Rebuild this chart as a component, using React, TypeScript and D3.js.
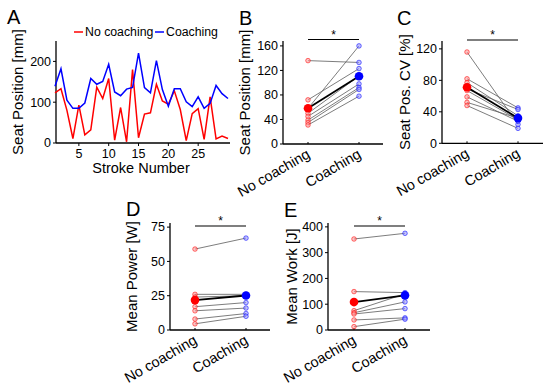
import React from "react";
import * as d3 from "d3";

// Panel A: seat position per stroke
const strokes = d3.range(1, 31);
const noCoachingSeries = [123, 133, 80, 11, 93, 20, 32, 137, 109, 158, 7, 87, 3, 180, 13, 71, 74, 144, 103, 95, 128, 82, 6, 72, 84, 9, 113, 10, 17, 11];
const coachingSeries = [139, 182, 105, 85, 85, 98, 158, 144, 151, 193, 125, 116, 132, 136, 220, 136, 123, 202, 131, 90, 133, 133, 101, 89, 113, 85, 97, 141, 121, 109];
const aXTicks = [5, 10, 15, 20, 25];
const aYTicks = [0, 100, 200];

const categories = ["No coaching", "Coaching"];

// Panel B: seat position (mm)
const bNo = [136, 72, 58, 50, 45, 39, 35, 31];
const bCo = [133, 123, 160, 111, 98, 92, 89, 78];
// Panel C: seat position CV (%)
const cNo = [116, 82, 77, 69, 67, 59, 52, 48];
const cCo = [24, 45, 35, 43, 30, 28, 32, 19];
// Panel D: mean power (W)
const dNo = [59, 26, 24, 17, 14, 8, 4.5];
const dCo = [67, 26, 25, 20, 16, 12, 10];
// Panel E: mean work (J)
const eNo = [353, 149, 75, 67, 62, 39, 13];
const eCo = [375, 145, 140, 109, 83, 47, 42];

const FONT = "'Liberation Sans', Arial, Helvetica, sans-serif";
const RED = "#ff0000";
const BLUE = "#0000ff";

function PanelA() {
  const x = d3.scaleLinear().domain([1, 30]).range([55, 228]);
  const y = d3.scaleLinear().domain([0, 250]).range([143, 41]);
  const line = d3
    .line<number>()
    .x((_, i) => x(strokes[i]))
    .y((d) => y(d));
  return (
    <g>
      <text x={7} y={24} fontSize={20} fontFamily={FONT}>A</text>
      <line x1={56} x2={56} y1={41} y2={143} stroke="#000" strokeWidth={1.3} />
      <line x1={56} x2={230} y1={143} y2={143} stroke="#000" strokeWidth={1.3} />
      {aYTicks.map((t) => (
        <g key={t}>
          <line x1={53} x2={56} y1={y(t)} y2={y(t)} stroke="#000" />
          <text x={51} y={y(t)} dy="0.35em" textAnchor="end" fontSize={12.5} fontFamily={FONT}>{t}</text>
        </g>
      ))}
      {aXTicks.map((t) => (
        <g key={t}>
          <line x1={x(t)} x2={x(t)} y1={143} y2={146} stroke="#000" />
          <text x={x(t)} y={158} textAnchor="middle" fontSize={12.5} fontFamily={FONT}>{t}</text>
        </g>
      ))}
      <path d={line(noCoachingSeries) || ""} fill="none" stroke={RED} strokeWidth={1.5} />
      <path d={line(coachingSeries) || ""} fill="none" stroke={BLUE} strokeWidth={1.5} />
      <text x={141} y={173} textAnchor="middle" fontSize={14.5} fontFamily={FONT}>Stroke Number</text>
      <text transform="translate(23,92) rotate(-90)" textAnchor="middle" fontSize={15} fontFamily={FONT}>Seat Position [mm]</text>
      <line x1={74} x2={83} y1={32} y2={32} stroke={RED} strokeWidth={1.5} />
      <text x={85} y={36} fontSize={12.3} fontFamily={FONT}>{categories[0]}</text>
      <line x1={155} x2={164} y1={32} y2={32} stroke={BLUE} strokeWidth={1.5} />
      <text x={166} y={36} fontSize={12.3} fontFamily={FONT}>{categories[1]}</text>
    </g>
  );
}

type PairProps = {
  letter: string;
  letterX: number;
  letterY: number;
  label: string;
  labelX: number;
  axisX: number;
  xEnd: number;
  top: number;
  bottom: number;
  domain: [number, number];
  ticks: number[];
  cats: [number, number];
  barY: number;
  no: number[];
  co: number[];
};

function PairPanel(p: PairProps) {
  const y = d3.scaleLinear().domain(p.domain).range([p.bottom, p.top]);
  const x = d3.scalePoint<string>().domain(categories).range(p.cats);
  const xa = x(categories[0]) as number;
  const xb = x(categories[1]) as number;
  const mNo = d3.mean(p.no) as number;
  const mCo = d3.mean(p.co) as number;
  const midY = (p.top + p.bottom) / 2;
  return (
    <g>
      <text x={p.letterX} y={p.letterY} fontSize={20} fontFamily={FONT}>{p.letter}</text>
      <text transform={`translate(${p.labelX},${midY}) rotate(-90)`} textAnchor="middle" fontSize={15} fontFamily={FONT}>{p.label}</text>
      <line x1={p.axisX} x2={p.axisX} y1={p.top} y2={p.bottom} stroke="#000" strokeWidth={1.3} />
      <line x1={p.axisX} x2={p.xEnd} y1={p.bottom} y2={p.bottom} stroke="#000" strokeWidth={1.3} />
      {p.ticks.map((t) => (
        <g key={t}>
          <line x1={p.axisX - 3} x2={p.axisX} y1={y(t)} y2={y(t)} stroke="#000" />
          <text x={p.axisX - 5} y={y(t)} dy="0.35em" textAnchor="end" fontSize={12.5} fontFamily={FONT}>{t}</text>
        </g>
      ))}
      {categories.map((c) => (
        <g key={c}>
          <line x1={x(c)} x2={x(c)} y1={p.bottom} y2={p.bottom - 2} stroke="#000" />
          <text
            transform={`translate(${(x(c) as number) + 3},${p.bottom + 13}) rotate(-30)`}
            textAnchor="end"
            fontSize={14.5}
            fontFamily={FONT}
          >
            {c}
          </text>
        </g>
      ))}
      <line x1={xa} x2={xb} y1={p.barY} y2={p.barY} stroke="#000" strokeWidth={1.2} />
      <text x={(xa + xb) / 2} y={p.barY - 1} textAnchor="middle" fontSize={12} fontFamily={FONT}>*</text>
      {p.no.map((v, i) => (
        <line key={i} x1={xa} x2={xb} y1={y(v)} y2={y(p.co[i])} stroke="#666" strokeOpacity={0.85} strokeWidth={1} />
      ))}
      {p.no.map((v, i) => (
        <circle key={"n" + i} cx={xa} cy={y(v)} r={2.3} fill="#ff9999" fillOpacity={0.6} stroke={RED} strokeOpacity={0.6} strokeWidth={0.9} />
      ))}
      {p.co.map((v, i) => (
        <circle key={"c" + i} cx={xb} cy={y(v)} r={2.3} fill="#9999ff" fillOpacity={0.6} stroke={BLUE} strokeOpacity={0.6} strokeWidth={0.9} />
      ))}
      <line x1={xa} x2={xb} y1={y(mNo)} y2={y(mCo)} stroke="#000" strokeWidth={1.8} />
      <circle cx={xa} cy={y(mNo)} r={4.3} fill={RED} />
      <circle cx={xb} cy={y(mCo)} r={4.3} fill={BLUE} />
    </g>
  );
}

export default function App() {
  return (
    <svg
      width={550}
      height={386}
      style={{ position: "absolute", left: 0, top: 0, background: "#fff" }}
    >
      <rect width={550} height={386} fill="#fff" />
      <PanelA />
      <PairPanel
        letter="B" letterX={239} letterY={25} label="Seat Position [mm]" labelX={250}
        axisX={283} xEnd={383} top={41} bottom={144} domain={[0, 168]} ticks={[0, 40, 80, 120, 160]}
        cats={[308, 359]} barY={39.5} no={bNo} co={bCo}
      />
      <PairPanel
        letter="C" letterX={397} letterY={25} label="Seat Pos. CV [%]" labelX={410}
        axisX={442} xEnd={543} top={41} bottom={143.3} domain={[0, 130]} ticks={[0, 40, 80, 120]}
        cats={[467, 518]} barY={40} no={cNo} co={cCo}
      />
      <PairPanel
        letter="D" letterX={126} letterY={216} label="Mean Power [W]" labelX={137}
        axisX={170} xEnd={270} top={223} bottom={330} domain={[0, 78]} ticks={[0, 25, 50, 75]}
        cats={[195, 246]} barY={226} no={dNo} co={dCo}
      />
      <PairPanel
        letter="E" letterX={284} letterY={217} label="Mean Work [J]" labelX={297}
        axisX={328} xEnd={430} top={223} bottom={330} domain={[0, 415]} ticks={[0, 100, 200, 300, 400]}
        cats={[354, 405]} barY={226} no={eNo} co={eCo}
      />
    </svg>
  );
}
